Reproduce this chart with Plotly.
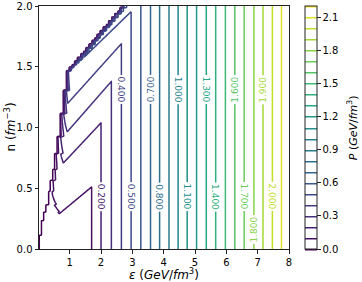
import numpy as np
import plotly.graph_objects as go
import plotly.colors as pc

# ---- values ----
# contour levels of P (GeV/fm^3) and the epsilon at which each one runs vertically
p_levels = [0.1, 0.2, 0.3, 0.4, 0.5, 0.6, 0.7, 0.8, 0.9, 1.0, 1.1,
            1.2, 1.3, 1.4, 1.5, 1.6, 1.7, 1.8, 1.9, 2.0, 2.1]
eps_vertical = [1.70, 2.00, 2.33, 2.65, 2.96, 3.27, 3.58, 3.87, 4.17, 4.46, 4.75,
                5.05, 5.36, 5.66, 5.97, 6.27, 6.57, 6.88, 7.17, 7.47, 7.76]

# slanted branch of the low contours: lower-left corner and upper-right turning point
ridge_levels = [0.1, 0.2, 0.3, 0.4, 0.5]
ridge_lo_eps = [0.67, 0.80, 0.94, 0.94, 1.02]
ridge_lo_n = [0.29, 0.71, 0.97, 1.20, 1.47]
ridge_hi_eps = [1.70, 2.00, 2.33, 2.65, 2.96]
ridge_hi_n = [0.51, 1.04, 1.38, 1.69, 1.955]

# left edge of the data (a staircase in n)
stair_n = [0.00, 0.12, 0.24, 0.31, 0.37, 0.48, 0.57, 0.66, 0.79, 0.93, 1.12, 1.31,
           1.47, 1.50, 1.52, 1.55, 1.58, 1.61, 1.63, 1.66, 1.69, 1.72, 1.74, 1.77,
           1.80, 1.83, 1.85, 1.88, 1.91, 1.94, 1.96, 1.99]
stair_eps = [0.03, 0.10, 0.17, 0.24, 0.33, 0.38, 0.46, 0.52, 0.60, 0.70, 0.80, 0.90,
             0.99, 1.08, 1.16, 1.25, 1.36, 1.45, 1.52, 1.62, 1.72, 1.81, 1.88, 1.98,
             2.08, 2.18, 2.25, 2.35, 2.45, 2.55, 2.62, 2.72]

# how quickly P rises away from the left edge
rise_n = [0.0, 0.29, 0.35, 0.45, 0.71, 0.97, 1.20, 1.46, 2.00]
rise_a = [0.12, 0.14, 0.18, 0.29, 0.38, 0.64, 1.07, 1.60, 1.60]

# contour labels
label_levels = [0.2, 0.4, 0.5, 0.7, 0.8, 1.0, 1.1, 1.3, 1.4, 1.6, 1.7, 1.8, 1.9, 2.0]
label_n = [0.43, 1.31, 0.43, 1.31, 0.43, 1.31, 0.43, 1.31, 0.43, 1.31, 0.43, 0.16, 1.31, 0.43]
label_angle = [90, 90, 90, -90, 90, 90, 90, 90, 90, -90, 90, -90, -90, 90]

cbar_ticks = [0.0, 0.3, 0.6, 0.9, 1.2, 1.5, 1.8, 2.1]
x_ticks = [1, 2, 3, 4, 5, 6, 7, 8]
y_ticks = [0.0, 0.5, 1.0, 1.5, 2.0]

# ---- build the pressure field from the tables above ----
eps = np.round(np.arange(0.02, 8.0001, 0.01), 4)
nn = np.round(np.arange(0.0, 2.0001, 0.01), 4)

ev = np.array(eps_vertical)
pl = np.array(p_levels)


def f_of(e):
    out = np.interp(e, ev, pl)
    lo = e < ev[0]
    out[lo] = pl[0] + (e[lo] - ev[0]) * (pl[1] - pl[0]) / (ev[1] - ev[0])
    hi = e > ev[-1]
    out[hi] = pl[-1] + (e[hi] - ev[-1]) * (pl[-1] - pl[-2]) / (ev[-1] - ev[-2])
    return out


def eps_edge(nv):
    idx = int(np.searchsorted(stair_n, nv + 1e-9, side="right") - 1)
    return stair_eps[idx]


f_row = f_of(eps)
Z = np.zeros((len(nn), len(eps)))
for j, nv in enumerate(nn):
    xs = []
    for lo_e, lo_n, hi_e, hi_n in zip(ridge_lo_eps, ridge_lo_n, ridge_hi_eps, ridge_hi_n):
        xs.append(lo_e + (nv - lo_n) * (hi_e - lo_e) / (hi_n - lo_n))
    xs_sorted = [xs[4] - 0.15] + xs[::-1] + [xs[0] + 0.8]
    vals = [0.56] + ridge_levels[::-1] + [0.0]
    g = np.interp(eps, xs_sorted, vals, left=0.56, right=0.0)
    g = np.clip(g, 0.03, 0.56)
    eb = eps_edge(nv)
    a = float(np.interp(nv, rise_n, rise_a))
    d = np.maximum(eps - eb, 0.0)
    h = a * np.sqrt(d + 0.002)
    row = np.maximum(f_row, np.minimum(g, h))
    row[eps < eb] = -0.05
    Z[j] = row
Z = np.round(Z, 4)

FONT = "DejaVu Sans"

fig = go.Figure()
fig.add_trace(go.Contour(
    x=eps, y=nn, z=Z,
    zmin=0.0, zmax=2.2,
    colorscale="Viridis",
    autocontour=False,
    contours=dict(start=0.0, end=2.2, size=0.1, coloring="lines", showlabels=False),
    line=dict(width=1.5),
    hoverinfo="skip",
    colorbar=dict(
        x=1.064, xanchor="left", xpad=0,
        y=0.5, yanchor="middle", len=1.0, lenmode="fraction", ypad=0,
        thickness=12,
        outlinewidth=1, outlinecolor="#222222",
        tickvals=cbar_ticks, ticktext=[f"{v:.1f}" for v in cbar_ticks],
        ticks="outside", ticklen=3.5, tickwidth=1, tickcolor="#222222",
        tickfont=dict(size=10, color="black", family=FONT),
    ),
    showscale=True,
))

for lv, ln, ang in zip(label_levels, label_n, label_angle):
    xpos = float(np.interp(lv, p_levels, eps_vertical))
    col = pc.sample_colorscale("Viridis", [lv / 2.2])[0]
    fig.add_annotation(x=xpos, y=ln, xref="x", yref="y", text=f"{lv:.3f}",
                       showarrow=False, textangle=ang, bgcolor="white",
                       borderpad=1,
                       font=dict(size=9, color=col, family=FONT))

# axis titles and colour-bar title
fig.add_annotation(x=0.5, y=-0.104, xref="paper", yref="paper", yanchor="middle",
                   text="<i>ε</i> (<i>GeV</i>/<i>fm</i><sup>3</sup>)", showarrow=False,
                   font=dict(size=12, color="black", family=FONT))
fig.add_annotation(x=-0.12, y=0.5, xref="paper", yref="paper", xanchor="center",
                   text="n (<i>fm</i><sup>−3</sup>)", showarrow=False, textangle=-90,
                   font=dict(size=12, color="black", family=FONT))
fig.add_annotation(x=1.255, y=0.5, xref="paper", yref="paper", xanchor="center",
                   text="<i>P</i> (<i>GeV</i>/<i>fm</i><sup>3</sup>)", showarrow=False,
                   textangle=-90,
                   font=dict(size=11, color="black", family=FONT))

fig.update_layout(
    width=362, height=282,
    margin=dict(l=39, r=73, t=6, b=33, autoexpand=False),
    paper_bgcolor="white", plot_bgcolor="white",
    font=dict(family=FONT, size=10, color="black"),
    showlegend=False,
)
fig.update_xaxes(
    range=[0.02, 8.0], tickvals=x_ticks, ticktext=[str(t) for t in x_ticks],
    ticks="outside", ticklen=3.5, tickwidth=1, tickcolor="#222222",
    showline=True, linecolor="#222222", linewidth=1, mirror=True,
    showgrid=False, zeroline=False, automargin=False,
    tickfont=dict(size=10),
)
fig.update_yaxes(
    range=[0.0, 2.0], tickvals=y_ticks, ticktext=[f"{t:.1f}" for t in y_ticks],
    ticks="outside", ticklen=3.5, tickwidth=1, tickcolor="#222222",
    showline=True, linecolor="#222222", linewidth=1, mirror=True,
    showgrid=False, zeroline=False, automargin=False,
    tickfont=dict(size=10),
)

fig.write_html("out.html", config={"displayModeBar": False},
               post_script="document.body.style.margin='0px';document.body.style.padding='0px';")
